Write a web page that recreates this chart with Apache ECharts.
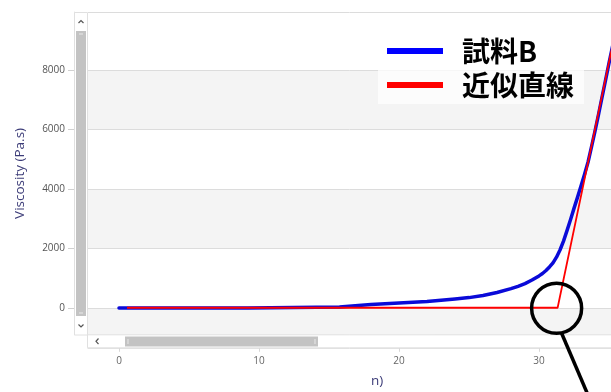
<!DOCTYPE html>
<html><head><meta charset="utf-8">
<script src="https://cdn.jsdelivr.net/npm/echarts@6/dist/echarts.min.js"></script>
<style>html,body{margin:0;padding:0;background:#fff}#c{width:611px;height:392px}</style>
</head><body><div id="c"></div>
<script>
// ---- data ----
const seriesNames = ['試料B', '近似直線'];
const timeB = [0, 9.2, 9.25, 15.75, 15.8, 18, 20, 22, 24, 25, 26, 27, 28, 28.5, 29, 29.5, 30, 30.25, 30.5, 30.75, 31, 31.25, 31.5, 31.75, 32, 32.25, 32.5, 32.75, 33, 33.25, 33.5, 33.75, 34, 34.25, 34.5, 34.75, 35, 35.25, 35.5];
const viscB = [0, 0, 35, 35, 70, 120, 165, 220, 300, 350, 420, 520, 650, 730, 820, 940, 1080, 1160, 1260, 1380, 1520, 1710, 1950, 2250, 2600, 2970, 3350, 3720, 4100, 4490, 4900, 5420, 5950, 6500, 7080, 7650, 8230, 8790, 9350];
const timeFit = [0.57, 31.33, 35.5];
const viscFit = [10, 10, 9390];
const xName = 'n)';
const yName = 'Viscosity (Pa.s)';

const X_MIN = -2.214, X_MAX = 35.143, Y_MIN = -900, Y_MAX = 9950;
const chart = echarts.init(document.getElementById('c'), null, {renderer: 'canvas'});
const axisNameColor = '#3c3c78';
const option = {
  animation: false,
  backgroundColor: '#fff',
  title: {text: xName, left: 371, top: 374, padding: 0,
    textStyle: {fontFamily: 'Open Sans', fontSize: 13.5, fontWeight: 'normal', color: axisNameColor}},
  grid: {left: 88, right: 0, top: 12, bottom: 57.2},
  xAxis: {
    type: 'value', min: X_MIN, max: X_MAX, offset: 13,
    splitLine: {show: false},
    axisLine: {show: true, onZero: false, lineStyle: {color: '#e2e2e2'}},
    axisTick: {show: true, length: 4, lineStyle: {color: '#d8d8d8'}},
    axisLabel: {color: '#666', fontFamily: 'Open Sans', fontSize: 10, margin: 8, showMinLabel: false, showMaxLabel: false,
      formatter: v => String(v)}
  },
  yAxis: {
    type: 'value', min: Y_MIN, max: Y_MAX, offset: 14,
    name: yName, nameLocation: 'middle', nameGap: 47,
    nameTextStyle: {fontFamily: 'Open Sans', fontSize: 13.5, color: axisNameColor},
    axisLine: {show: true, onZero: false, lineStyle: {color: '#e6e6e6'}},
    axisTick: {show: true, length: 6, lineStyle: {color: '#d0d0d0'}},
    axisLabel: {color: '#555', fontFamily: 'Open Sans', fontSize: 10, margin: 9, showMinLabel: false, showMaxLabel: false,
      formatter: v => String(v)},
    splitLine: {show: true, lineStyle: {color: '#dcdcdc', width: 1}},
    splitArea: {show: true, areaStyle: {color: ['#f4f4f4', '#ffffff']}}
  },
  legend: {
    left: 378, top: 32, orient: 'vertical', padding: [4, 10, 4, 9], itemGap: 4,
    itemWidth: 56, itemHeight: 6, icon: 'rect',
    backgroundColor: 'rgba(255,255,255,0.75)',
    textStyle: {fontFamily: 'Noto Sans CJK JP', fontWeight: 'bold', fontSize: 28, color: '#000', lineHeight: 30, padding: [0, 0, 0, 14]},
    data: seriesNames
  },
  series: [
    {type: 'line', name: seriesNames[0], data: timeB.map((t, i) => [t, viscB[i]]),
      symbol: 'none', smooth: false,
      lineStyle: {color: '#0a0ad8', width: 3.5, cap: 'round', join: 'round'}, itemStyle: {color: '#0000ff'}, z: 2},
    {type: 'line', name: seriesNames[1], data: timeFit.map((t, i) => [t, viscFit[i]]),
      symbol: 'none', lineStyle: {color: '#ff0000', width: 1.8}, itemStyle: {color: '#ff0000'}, z: 3}
  ]
};
chart.setOption(option);

const p = chart.convertToPixel({gridIndex: 0}, [timeFit[1], viscFit[1]]);
const cx = p[0] - 1, cy = p[1] + 0.5;
const sb = '#c3c3c3', fr = '#e0e0e0', ar = '#555';
chart.setOption({graphic: [
  // vertical scrollbar
  {type: 'rect', z: 50, shape: {x: 74.5, y: 12.5, width: 13, height: 322.5}, style: {fill: '#fff', stroke: fr}},
  {type: 'polyline', z: 51, shape: {points: [[78.5, 23], [81, 20.5], [83.5, 23]]}, style: {stroke: ar, lineWidth: 1.2, fill: null}},
  {type: 'rect', z: 51, shape: {x: 76, y: 31, width: 10, height: 285}, style: {fill: sb}},
  {type: 'line', z: 52, shape: {x1: 79, y1: 34, x2: 83, y2: 34}, style: {stroke: '#e8e8e8', lineWidth: 1}},
  {type: 'line', z: 52, shape: {x1: 79, y1: 313, x2: 83, y2: 313}, style: {stroke: '#e8e8e8', lineWidth: 1}},
  {type: 'polyline', z: 51, shape: {points: [[78.5, 324.5], [81, 327], [83.5, 324.5]]}, style: {stroke: ar, lineWidth: 1.2, fill: null}},
  // horizontal scrollbar
  {type: 'rect', z: 50, shape: {x: 87.5, y: 334.8, width: 530, height: 13}, style: {fill: '#fff', stroke: fr}},
  {type: 'polyline', z: 51, shape: {points: [[98.5, 338.5], [96, 341.3], [98.5, 344]]}, style: {stroke: ar, lineWidth: 1.2, fill: null}},
  {type: 'rect', z: 51, shape: {x: 125, y: 336.5, width: 193, height: 10}, style: {fill: sb}},
  {type: 'line', z: 52, shape: {x1: 128, y1: 339, x2: 128, y2: 344}, style: {stroke: '#e8e8e8', lineWidth: 1}},
  {type: 'line', z: 52, shape: {x1: 315, y1: 339, x2: 315, y2: 344}, style: {stroke: '#e8e8e8', lineWidth: 1}},
  // callout
  {type: 'circle', z: 100, shape: {cx: cx, cy: cy, r: 25}, style: {fill: null, stroke: '#000', lineWidth: 3.5}},
  {type: 'line', z: 100, shape: {x1: cx + 5, y1: cy + 25, x2: cx + 37, y2: cy + 100}, style: {stroke: '#000', lineWidth: 3.5}}
]});
</script></body></html>
